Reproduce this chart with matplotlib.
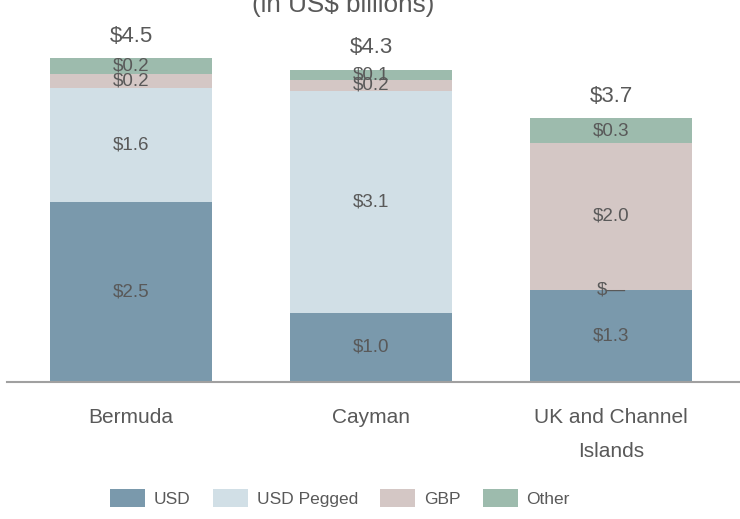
import matplotlib
matplotlib.use("Agg")
import matplotlib.pyplot as plt
from matplotlib.patches import Patch
import numpy as np

plt.rcParams['font.family'] = ['Liberation Sans', 'DejaVu Sans']

categories = ["Bermuda", "Cayman", "UK and Channel\nIslands"]
series_names = ["USD", "USD Pegged", "GBP", "Other"]
usd = [2.50, 0.96, 1.28]
usd_pegged = [1.58, 3.08, 0.00]
gbp = [0.20, 0.16, 2.04]
other = [0.22, 0.14, 0.34]
colors = ["#7A99AC", "#D1DFE6", "#D4C7C5", "#9DBBAD"]
text_color = "#595959"

series = [usd, usd_pegged, gbp, other]

fig = plt.figure(figsize=(7.4, 5.19), dpi=100)
ax = fig.add_axes([7/740, (519-382)/519, 733/740, 342/519])

x = np.arange(len(categories))
bottom = np.zeros(len(categories))
for vals, col in zip(series, colors):
    vals = np.array(vals)
    ax.bar(x, vals, 0.675, bottom=bottom, color=col, edgecolor='none')
    for xi, b, v in zip(x, bottom, vals):
        lab = "$—" if v == 0 else f"${v:.1f}"
        ax.text(xi, b + v / 2, lab, ha='center', va='center', fontsize=13.5, color=text_color)
    bottom = bottom + vals

for xi, tot in zip(x, bottom):
    ax.annotate(f"${tot:.1f}", (xi, tot), xytext=(0, 8), textcoords='offset points',
                ha='center', va='bottom', fontsize=16, color=text_color)

ax.set_xlim(-124/240, 609/240 + 0.0)
ax.set_ylim(0, 342/72)
for s in ['top', 'right', 'left']:
    ax.spines[s].set_visible(False)
ax.spines['bottom'].set_color('#A0A0A0')
ax.spines['bottom'].set_linewidth(1.5)
ax.set_yticks([])
ax.set_xticks(x)
ax.set_xticklabels(categories, fontsize=15, color=text_color, linespacing=2.0)
ax.tick_params(axis='x', length=0, pad=19)

fig.text(343/740, 1 - 12/519, "(in US$ billions)", ha='center', va='baseline',
         fontsize=18.8, color=text_color)

handles = [Patch(facecolor=c, edgecolor='none') for c in colors]
leg = fig.legend(handles, series_names, loc='center', bbox_to_anchor=(340/740, 1 - 498/519),
                 ncol=4, frameon=False, fontsize=12.5, handlelength=2.0, handleheight=1.2,
                 handletextpad=0.5, columnspacing=1.3)
for t in leg.get_texts():
    t.set_color(text_color)

fig.savefig("out.png", dpi=100)
